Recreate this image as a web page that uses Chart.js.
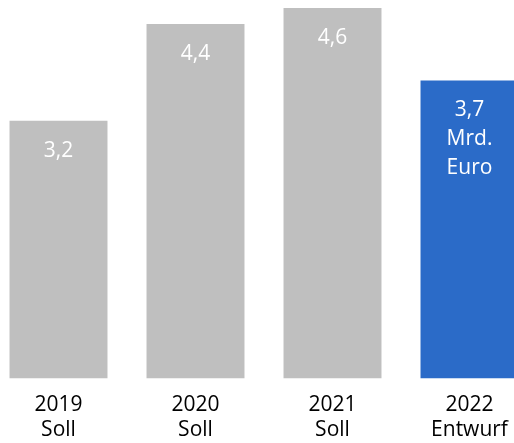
<!DOCTYPE html>
<html>
<head>
<meta charset="utf-8">
<script src="https://cdn.jsdelivr.net/npm/chart.js@4/dist/chart.umd.min.js"></script>
<style>
  html, body { margin: 0; padding: 0; background: #fff; overflow: hidden; }
  #wrap { position: absolute; left: -10px; top: 0; width: 548px; height: 457px; }
</style>
</head>
<body>
<div id="wrap"><canvas id="chart"></canvas></div>
<script>
const years = ['2019', '2020', '2021', '2022'];
const stages = ['Soll', 'Soll', 'Soll', 'Entwurf'];
const values = [3.2, 4.4, 4.6, 3.7];
const barColors = ['#bfbfbf', '#bfbfbf', '#bfbfbf', '#2b6bc8'];
// extra text lines under the value, per bar
const unitLines = [[], [], [], ['Mrd.', 'Euro']];

const FONT = '"Open Sans", "DejaVu Sans", sans-serif';

// white value labels inside the top of each bar
const valueLabels = {
  id: 'valueLabels',
  afterDatasetsDraw(chart) {
    const ctx = chart.ctx;
    const meta = chart.getDatasetMeta(0);
    ctx.save();
    ctx.fillStyle = '#ffffff';
    ctx.font = '21px ' + FONT;
    ctx.textAlign = 'center';
    ctx.textBaseline = 'middle';
    meta.data.forEach((bar, i) => {
      const lines = [values[i].toFixed(1).replace('.', ',')].concat(unitLines[i]);
      lines.forEach((t, j) => {
        ctx.fillText(t, bar.x, bar.y + 30 + j * 29);
      });
    });
    ctx.restore();
  }
};

new Chart(document.getElementById('chart'), {
  type: 'bar',
  data: {
    labels: years.map((y, i) => [y, stages[i]]),
    datasets: [{
      data: values,
      backgroundColor: barColors,
      categoryPercentage: 1,
      barPercentage: 0.715
    }]
  },
  options: {
    responsive: true,
    maintainAspectRatio: false,
    animation: false,
    layout: { padding: { top: 8, left: 0, right: 0, bottom: 0 } },
    plugins: { legend: { display: false }, tooltip: { enabled: false } },
    scales: {
      x: {
        grid: { display: false, drawTicks: false },
        border: { display: false },
        ticks: {
          color: '#000',
          padding: 14,
          font: { family: FONT, size: 21, lineHeight: 1.2 }
        }
      },
      y: {
        display: false,
        min: 0,
        max: 4.6
      }
    }
  },
  plugins: [valueLabels]
});
</script>
</body>
</html>
